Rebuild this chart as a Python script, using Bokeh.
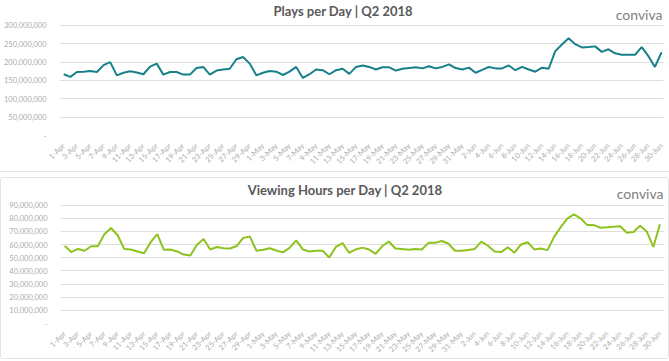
from math import pi
from bokeh.plotting import figure
from bokeh.layouts import column
from bokeh.models import FixedTicker, NumeralTickFormatter, Range1d, Label
from bokeh.embed import file_html
from bokeh.resources import INLINE

# ---------------- data ----------------
plays_m = [167, 160, 173, 174, 176, 173, 192, 200, 164, 171, 175, 172, 167, 188, 196,
           166, 173, 173, 166, 166, 184, 187, 166, 177, 180, 182, 208, 214, 196, 164,
           171, 176, 174, 165, 174, 187, 157, 167, 180, 178, 167, 178, 182, 168, 187,
           191, 187, 180, 186, 186, 177, 182, 184, 186, 183, 189, 183, 187, 194, 184, 180,
           185, 171, 179, 187, 183, 183, 191, 178, 187, 180, 174, 185, 182, 230, 248,
           265, 249, 240, 241, 243, 228, 235, 224, 220, 220, 220, 241, 217, 187, 227]

hours_m = [58.9, 54.3, 56.7, 55.3, 58.7, 58.7, 67.8, 72.6, 67.1, 56.7, 56.3, 54.8, 53.4, 61.8, 68.0,
           56.0, 56.3, 54.8, 52.4, 51.7, 59.9, 64.2, 56.3, 58.2, 57.2, 57.0, 58.9, 65.1, 66.1, 55.3,
           56.0, 57.2, 55.5, 54.1, 57.5, 63.2, 56.3, 54.8, 55.3, 55.3, 50.2, 58.2, 61.1, 53.8, 56.3,
           57.7, 56.3, 52.9, 58.7, 62.3, 57.0, 56.7, 56.0, 56.7, 56.3, 61.3, 61.3, 62.7, 60.8, 55.3, 55.3,
           55.8, 56.7, 62.3, 59.1, 54.8, 54.3, 57.9, 53.8, 60.1, 61.8, 56.3, 57.0, 55.8, 65.9, 73.3,
           79.8, 82.9, 80.0, 74.8, 74.8, 72.8, 73.1, 73.6, 74.0, 69.0, 69.5, 74.3, 70.0, 58.2, 75.5]

tick_labels = ["1-Apr", "3-Apr", "5-Apr", "7-Apr", "9-Apr", "11-Apr", "13-Apr", "15-Apr",
               "17-Apr", "19-Apr", "21-Apr", "23-Apr", "25-Apr", "27-Apr", "29-Apr",
               "1-May", "3-May", "5-May", "7-May", "9-May", "11-May", "13-May", "15-May",
               "17-May", "19-May", "21-May", "23-May", "25-May", "27-May", "29-May", "31-May",
               "2-Jun", "4-Jun", "6-Jun", "8-Jun", "10-Jun", "12-Jun", "14-Jun", "16-Jun",
               "18-Jun", "20-Jun", "22-Jun", "24-Jun", "26-Jun", "28-Jun", "30-Jun"]

top_title = "Plays per Day | Q2 2018"
bottom_title = "Viewing Hours per Day | Q2 2018"
brand = "conviva"

plays_ticks = [0, 50e6, 100e6, 150e6, 200e6, 250e6, 300e6]
hours_ticks = [0, 10e6, 20e6, 30e6, 40e6, 50e6, 60e6, 70e6, 80e6, 90e6]

days = list(range(len(plays_m)))
plays = [v * 1e6 for v in plays_m]
hours = [v * 1e6 for v in hours_m]
tick_pos = days[::2]

FONT = "Lato"
GRAY = "#ababab"


def make_fig(y, color, title, yticks, height, border_bottom, frame_h, top_tick_px,
             x0, x1, title_x, brand_x, title_px, brand_px):
    top_tick = yticks[-1]
    ymax = top_tick * frame_h / top_tick_px

    def yfrom(px):
        return top_tick * px / top_tick_px

    p = figure(width=669, height=height, output_backend="svg", toolbar_location=None,
               x_range=Range1d(x0, x1), y_range=Range1d(0, ymax),
               min_border_left=45, min_border_right=6,
               min_border_top=height - border_bottom - frame_h,
               min_border_bottom=border_bottom)
    p.line(days, y, line_color=color, line_width=2)
    p.outline_line_color = None
    p.background_fill_color = "white"
    p.xgrid.grid_line_color = None
    p.ygrid.grid_line_color = "#dedede"
    p.ygrid.grid_line_width = 1
    p.ygrid.ticker = FixedTicker(ticks=yticks)

    ya = p.yaxis[0]
    ya.ticker = FixedTicker(ticks=yticks)
    ya.formatter = NumeralTickFormatter(format="0,0")
    ya.major_label_overrides = {0: "-"}
    ya.axis_line_color = None
    ya.major_tick_line_color = None
    ya.minor_tick_line_color = None
    ya.major_label_text_font = FONT
    ya.major_label_text_font_size = "7.5px"
    ya.major_label_text_color = GRAY
    ya.major_label_standoff = 7

    xa = p.xaxis[0]
    xa.ticker = FixedTicker(ticks=tick_pos)
    xa.major_label_overrides = {d: lab for d, lab in zip(tick_pos, tick_labels)}
    xa.major_label_orientation = pi / 4
    xa.axis_line_color = None
    xa.major_tick_line_color = None
    xa.minor_tick_line_color = None
    xa.major_label_text_font = FONT
    xa.major_label_text_font_size = "7.5px"
    xa.major_label_text_color = GRAY
    xa.major_label_standoff = 3

    p.add_layout(Label(x=title_x, y=yfrom(title_px), text=title, text_align="center",
                       text_baseline="middle", text_font=FONT, text_font_style="bold",
                       text_font_size="13px", text_color="#595959"))
    p.add_layout(Label(x=brand_x, y=yfrom(brand_px), text=brand, text_align="right",
                       text_baseline="middle", text_font=FONT,
                       text_font_size="14px", text_color="#808080"))
    return p


p1 = make_fig(plays, "#17808a", top_title, plays_ticks, 172, 31, 139, 115,
              -0.633, 90.29, 42.1, 90.14, 130, 126.3)
p2 = make_fig(hours, "#8dc21f", bottom_title, hours_ticks, 182, 29, 151, 125,
              -0.635, 90.69, 42.4, 90.54, 140.7, 137.3)
p1.styles = {"border-bottom": "1px solid #e4e4e4", "box-sizing": "border-box"}
p2.styles = {"border": "1px solid #e4e4e4", "border-radius": "3px", "box-sizing": "border-box"}

layout = column(p1, p2, spacing=5)
open("out.html", "w").write(file_html(layout, INLINE))
